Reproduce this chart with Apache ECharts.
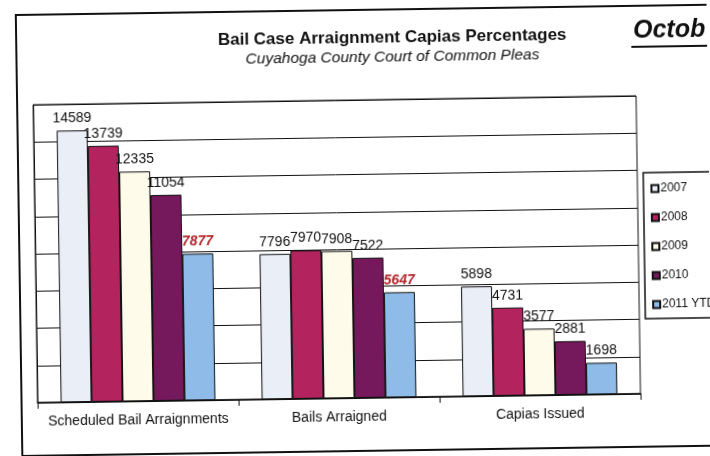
<!DOCTYPE html>
<html><head><meta charset="utf-8">
<script src="https://cdn.jsdelivr.net/npm/echarts@6/dist/echarts.min.js"></script>
<style>html,body{margin:0;padding:0;background:#fff;overflow:hidden}#c{width:710px;height:456px;transform:rotate(-0.85deg);transform-origin:355px 228px}</style>
</head><body><div id="c"></div>
<script>
const categories = ['Scheduled Bail Arraignments', 'Bails Arraigned', 'Capias Issued'];
const years = ['2007', '2008', '2009', '2010', '2011 YTD'];
const v2007 = [14589, 7796, 5898];
const v2008 = [13739, 7970, 4731];
const v2009 = [12335, 7908, 3577];
const v2010 = [11054, 7522, 2881];
const v2011 = [7877, 5647, 1698];
const yTicks = [0, 2000, 4000, 6000, 8000, 10000, 12000, 14000, 16000];

const colors = ['#e9eef7', '#b3245f', '#fffbea', '#76195c', '#8fbbe8'];
const FONT = "'Liberation Sans',Arial,sans-serif";
const allVals = [v2007, v2008, v2009, v2010, v2011];

const series = years.map((y, i) => ({
  name: y,
  type: 'bar',
  barGap: '0%',
  barCategoryGap: '23%',
  itemStyle: { color: colors[i], borderColor: '#111', borderWidth: 1 },
  label: {
    show: true, position: 'top', distance: 5,
    fontFamily: FONT, fontSize: 14, color: '#111'
  },
  data: allVals[i].map((v, j) => {
    if (i === 4 && j < 2) {
      return { value: v, label: { color: '#b3262c', fontWeight: 'bold', fontStyle: 'italic' } };
    }
    return v;
  })
}));

const chart = echarts.init(document.getElementById('c'), null, { renderer: 'canvas' });
chart.setOption({
  animation: false,
  backgroundColor: '#fff',
  title: [{
    text: 'Bail Case Arraignment Capias Percentages',
    subtext: 'Cuyahoga County Court of Common Pleas',
    left: 390, textAlign: 'center', top: 25, itemGap: 3,
    textStyle: { fontFamily: FONT, fontSize: 17, fontWeight: 'bold', color: '#111' },
    subtextStyle: { fontFamily: FONT, fontSize: 15.5, fontStyle: 'italic', color: '#111' }
  }],
  legend: {
    orient: 'vertical', left: 646, top: 182, itemGap: 17,
    itemWidth: 7, itemHeight: 7, icon: 'rect',
    textStyle: { fontFamily: FONT, fontSize: 12, color: '#111', padding: [0, 0, 0, -3] },
    data: years
  },
  grid: {
    left: 35, right: 72, top: 100, bottom: 58,
    show: true, borderColor: '#111', borderWidth: 1
  },
  xAxis: {
    type: 'category', data: categories,
    axisLine: { lineStyle: { color: '#111', width: 1.5 } },
    axisTick: { show: true, length: 6, lineStyle: { color: '#111' } },
    axisLabel: { fontFamily: FONT, fontSize: 14, color: '#111', margin: 12, interval: 0 }
  },
  yAxis: {
    type: 'value', min: yTicks[0], max: yTicks[yTicks.length - 1], interval: yTicks[1] - yTicks[0],
    axisLabel: { show: false },
    axisLine: { show: true, lineStyle: { color: '#111' } },
    axisTick: { show: false },
    splitLine: { lineStyle: { color: '#111', width: 1 } }
  },
  graphic: [
    { type: 'rect', shape: { x: 19, y: 10, width: 720, height: 441 }, style: { fill: null, stroke: '#111', lineWidth: 2 }, z: -1 },
    { type: 'rect', shape: { x: 644, y: 177, width: 80, height: 146 }, style: { fill: null, stroke: '#111', lineWidth: 1.5 }, z: -1 },
    { type: 'text', left: 636, top: 23, style: { text: 'Octob', fontFamily: FONT, fontSize: 25, fontWeight: 'bold', fontStyle: 'italic', fill: '#111' } },
    { type: 'rect', shape: { x: 634, y: 50, width: 80, height: 2 }, style: { fill: '#111' } }
  ],
  series: series
});
</script></body></html>
